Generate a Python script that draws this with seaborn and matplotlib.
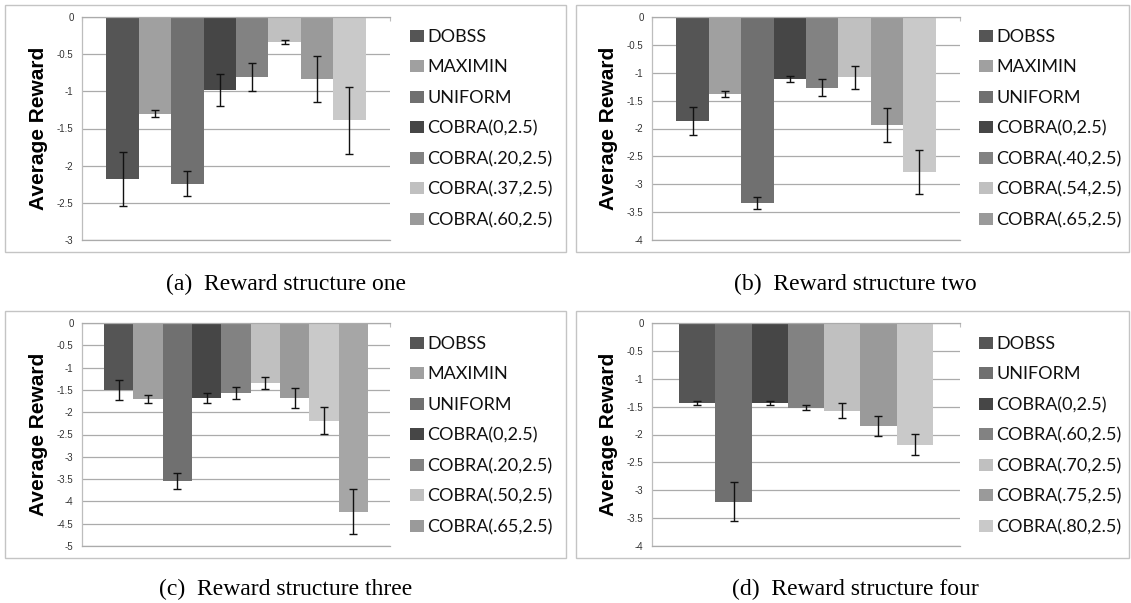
import numpy as np
import pandas as pd
import matplotlib
matplotlib.use("Agg")
import matplotlib.pyplot as plt
from matplotlib.patches import Rectangle, Patch
from matplotlib.ticker import FuncFormatter
import seaborn as sns

# ---- data -----------------------------------------------------------------
methods_a = ["DOBSS", "MAXIMIN", "UNIFORM", "COBRA(0,2.5)", "COBRA(.20,2.5)",
             "COBRA(.37,2.5)", "COBRA(.60,2.5)", "COBRA(.80,2.5)"]
reward_a = [-2.18, -1.30, -2.24, -0.98, -0.81, -0.33, -0.83, -1.39]
err_a = [0.36, 0.05, 0.165, 0.215, 0.19, 0.027, 0.31, 0.45]

methods_b = ["DOBSS", "MAXIMIN", "UNIFORM", "COBRA(0,2.5)", "COBRA(.40,2.5)",
             "COBRA(.54,2.5)", "COBRA(.65,2.5)", "COBRA(.80,2.5)"]
reward_b = [-1.87, -1.38, -3.33, -1.12, -1.27, -1.08, -1.94, -2.78]
err_b = [0.25, 0.055, 0.107, 0.054, 0.15, 0.21, 0.31, 0.39]

methods_c = ["DOBSS", "MAXIMIN", "UNIFORM", "COBRA(0,2.5)", "COBRA(.20,2.5)",
             "COBRA(.50,2.5)", "COBRA(.65,2.5)", "COBRA(.80,2.5)", "COBRA(.90,2.5)"]
reward_c = [-1.50, -1.70, -3.54, -1.68, -1.57, -1.35, -1.68, -2.19, -4.23]
err_c = [0.225, 0.094, 0.177, 0.12, 0.13, 0.13, 0.22, 0.30, 0.50]

methods_d = ["DOBSS", "UNIFORM", "COBRA(0,2.5)", "COBRA(.60,2.5)",
             "COBRA(.70,2.5)", "COBRA(.75,2.5)", "COBRA(.80,2.5)"]
reward_d = [-1.43, -3.21, -1.43, -1.52, -1.57, -1.84, -2.18]
err_d = [0.036, 0.35, 0.033, 0.048, 0.14, 0.18, 0.19]

captions = ["(a)  Reward structure one", "(b)  Reward structure two",
            "(c)  Reward structure three", "(d)  Reward structure four"]
y_floor = [-3, -4, -5, -4]

# grey series colours, one per method
grey = {
    "DOBSS": "#555555", "MAXIMIN": "#a0a0a0", "UNIFORM": "#707070",
    "COBRA0": "#464646", "C2": "#828282", "C3": "#c0c0c0", "C4": "#9a9a9a",
    "C5": "#c9c9c9", "C6": "#a6a6a6",
}
colors_a = [grey[k] for k in ["DOBSS", "MAXIMIN", "UNIFORM", "COBRA0", "C2", "C3", "C4", "C5"]]
colors_b = list(colors_a)
colors_c = [grey[k] for k in ["DOBSS", "MAXIMIN", "UNIFORM", "COBRA0", "C2", "C3", "C4", "C5", "C6"]]
colors_d = [grey[k] for k in ["DOBSS", "UNIFORM", "COBRA0", "C2", "C3", "C4", "C5"]]

LEGEND_ROWS = 7

# ---- figure ---------------------------------------------------------------
W, H = 1131, 603
sns.set_style("white")
plt.rcParams["font.family"] = ["Liberation Sans", "DejaVu Sans"]
plt.rcParams["axes.unicode_minus"] = False

fig = plt.figure(figsize=(W / 100, H / 100), dpi=100)
fig.patch.set_facecolor("white")

GRID = "#ababab"
AXIS = "#bdbdbd"


def px_rect(x0, y0, x1, y1):
    return [x0 / W, 1 - y1 / H, (x1 - x0) / W, (y1 - y0) / H]


panels = [
    dict(methods=methods_a, reward=reward_a, err=err_a, colors=colors_a,
         ax=(82, 17, 390, 240), box=(5, 5, 566, 252), leg=(410, 29), cap=(286, 284)),
    dict(methods=methods_b, reward=reward_b, err=err_b, colors=colors_b,
         ax=(652, 17, 960, 240), box=(576, 5, 1129, 252), leg=(979, 29), cap=(855, 284)),
    dict(methods=methods_c, reward=reward_c, err=err_c, colors=colors_c,
         ax=(82, 323, 390, 546), box=(5, 311, 566, 558), leg=(410, 336), cap=(286, 589)),
    dict(methods=methods_d, reward=reward_d, err=err_d, colors=colors_d,
         ax=(652, 323, 960, 546), box=(576, 311, 1129, 558), leg=(979, 336), cap=(855, 589)),
]

for p, cap, ymin in zip(panels, captions, y_floor):
    # frame around each sub-chart
    bx0, by0, bx1, by1 = p["box"]
    fig.add_artist(Rectangle((bx0 / W, 1 - by1 / H), (bx1 - bx0) / W, (by1 - by0) / H,
                             transform=fig.transFigure, fill=False,
                             edgecolor="#c4c4c4", linewidth=1.0))

    ax = fig.add_axes(px_rect(*p["ax"]))
    n = len(p["methods"])
    df = pd.DataFrame({"structure": ["all"] * n, "method": p["methods"],
                       "reward": p["reward"]})
    sns.barplot(data=df, x="structure", y="reward", hue="method",
                hue_order=p["methods"], palette=p["colors"], saturation=1,
                width=n / (n + 1.5), errorbar=None, linewidth=0, legend=False, ax=ax)

    # error bars centred on each bar
    for cont, val, e in zip(ax.containers, p["reward"], p["err"]):
        bar = cont.patches[0]
        xc = bar.get_x() + bar.get_width() / 2
        ax.errorbar(xc, val, yerr=e, fmt="none", ecolor="#111111",
                    elinewidth=1.0, capsize=3.0, capthick=1.0, zorder=5)

    ax.set_xlim(-0.5, 0.5)
    ax.set_ylim(ymin, 0)
    ticks = np.round(np.arange(ymin, 0.001, 0.5), 1)
    ax.set_yticks(ticks)
    ax.yaxis.set_major_formatter(FuncFormatter(lambda v, pos: f"{v:g}"))
    ax.yaxis.grid(True, color=GRID, linewidth=0.9)
    ax.set_axisbelow(True)
    ax.spines["right"].set_visible(False)
    ax.spines["left"].set_color(AXIS)
    ax.spines["top"].set_color(GRID)
    ax.spines["bottom"].set_color(GRID)
    for s in ax.spines.values():
        s.set_linewidth(0.9)

    ax.xaxis.tick_top()
    ax.set_xticks([-0.5, 0.5])
    ax.tick_params(axis="x", direction="in", length=3, color=AXIS,
                   labeltop=False, labelbottom=False)
    ax.tick_params(axis="y", direction="out", length=3, color=GRID, width=0.9,
                   labelsize=7, labelcolor="#333333", pad=3)
    ax.set_xlabel("")
    ax.set_ylabel("Average Reward", fontsize=15, fontweight="bold", color="black")
    ax.yaxis.set_label_coords(-0.11, 0.5)

    handles = [Patch(facecolor=c, edgecolor="none") for c in p["colors"][:LEGEND_ROWS]]
    lx, ly = p["leg"]
    ax.legend(handles, p["methods"][:LEGEND_ROWS], loc="upper left",
              bbox_to_anchor=(lx / W, 1 - ly / H), bbox_transform=fig.transFigure,
              frameon=False, borderpad=0, borderaxespad=0,
              prop={"family": "Lato", "size": 13}, labelcolor="#111111",
              handlelength=0.75, handleheight=0.65, handletextpad=0.22,
              labelspacing=0.8)

    cx, cy = p["cap"]
    fig.text(cx / W, 1 - cy / H, cap, ha="center", va="center",
             family="Liberation Serif", fontsize=17, color="black")

fig.savefig("out.png", dpi=100, facecolor="white")
